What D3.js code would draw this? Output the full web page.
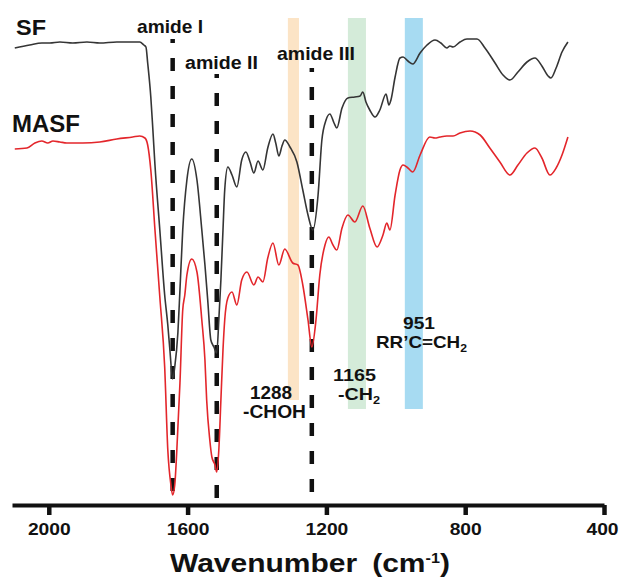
<!DOCTYPE html>
<html>
<head>
<meta charset="utf-8">
<script src="https://cdn.jsdelivr.net/npm/d3@7"></script>
<style>
  body { margin: 0; background: #fff; }
  svg { display: block; font-family: "Liberation Sans", Arial, sans-serif; }
</style>
</head>
<body>
<div id="chart"></div>
<script>
// Spectra as [wavenumber (cm-1), signal (a.u., offset)]
const sfSpectrum = [
  [2098, 91.4], [2055, 92.0], [2020, 92.4], [1997, 92.4], [1968, 92.6], [1931, 92.4],
  [1890, 92.6], [1853, 92.4], [1804, 92.6], [1758, 92.6], [1738, 92.6], [1726, 92.0],
  [1720, 91.6], [1715, 88.4], [1706, 81.6], [1700, 75.0], [1694, 68.0], [1680, 55.0],
  [1666, 42.0], [1657, 36.0], [1651, 31.0], [1643, 25.2], [1637, 27.6], [1628, 34.4],
  [1622, 43.0], [1614, 55.0], [1602, 65.0], [1588, 69.2], [1573, 65.0], [1559, 55.0],
  [1550, 48.0], [1542, 41.0], [1533, 33.0], [1524, 31.6], [1516, 30.4], [1510, 37.0],
  [1504, 45.0], [1498, 55.0], [1493, 63.0], [1484, 67.6], [1472, 66.0], [1458, 63.6],
  [1444, 69.0], [1432, 70.6], [1420, 68.6], [1409, 66.4], [1397, 68.8], [1383, 67.0],
  [1369, 71.4], [1354, 74.2], [1346, 72.4], [1337, 69.8], [1328, 71.8], [1320, 73.0],
  [1305, 71.6], [1285, 68.6], [1268, 63.0], [1253, 58.0], [1239, 55.0], [1224, 62.0],
  [1213, 73.0], [1201, 77.0], [1190, 78.2], [1178, 76.4], [1170, 75.4], [1155, 79.4],
  [1138, 81.4], [1118, 81.6], [1103, 81.8], [1095, 82.6], [1086, 80.6], [1075, 79.0],
  [1060, 77.6], [1046, 79.0], [1028, 82.2], [1020, 80.0], [1014, 81.0], [1002, 85.6],
  [988, 89.4], [979, 89.6], [965, 88.8], [951, 88.2], [930, 90.4], [910, 92.0],
  [887, 93.0], [870, 92.4], [853, 91.4], [844, 91.8], [835, 91.6], [815, 92.6],
  [795, 93.2], [766, 93.2], [743, 91.4], [714, 88.4], [691, 86.0], [671, 85.0],
  [648, 86.6], [622, 88.6], [599, 89.4], [579, 87.8], [561, 85.8], [553, 85.4],
  [538, 87.4], [521, 90.6], [504, 92.6]
];

const masfSpectrum = [
  [2098, 71.2], [2063, 71.4], [2040, 72.4], [2020, 72.8], [2003, 72.4], [1988, 72.8],
  [1968, 72.6], [1948, 72.4], [1902, 72.4], [1853, 72.6], [1804, 73.2], [1758, 73.6],
  [1738, 73.8], [1723, 73.4], [1715, 72.0], [1706, 67.0], [1694, 55.0], [1680, 41.6],
  [1666, 27.6], [1657, 11.0], [1648, 4.0], [1643, 2.0], [1637, 4.0], [1631, 11.0],
  [1622, 24.4], [1614, 39.0], [1608, 42.0], [1602, 46.0], [1588, 49.2], [1573, 46.6],
  [1559, 37.0], [1550, 29.0], [1545, 21.0], [1536, 13.0], [1530, 9.6], [1521, 8.0],
  [1516, 6.6], [1510, 11.0], [1504, 21.0], [1498, 31.0], [1493, 37.0], [1484, 41.4],
  [1472, 42.6], [1458, 40.0], [1444, 45.0], [1429, 46.6], [1409, 44.0], [1397, 45.6],
  [1383, 44.6], [1369, 49.4], [1354, 52.4], [1337, 48.0], [1320, 51.2], [1297, 48.4],
  [1282, 48.0], [1268, 44.0], [1253, 37.0], [1242, 31.6], [1230, 37.0], [1219, 46.0],
  [1204, 52.0], [1193, 53.6], [1181, 52.0], [1170, 51.0], [1155, 55.4], [1138, 58.0],
  [1118, 56.6], [1095, 59.8], [1075, 55.4], [1054, 51.6], [1037, 54.0], [1026, 56.4],
  [1017, 55.0], [1002, 62.0], [988, 67.0], [979, 68.0], [965, 67.4], [951, 66.6],
  [930, 70.0], [902, 73.6], [887, 73.4], [873, 73.6], [853, 73.8], [835, 73.8],
  [815, 74.4], [786, 74.8], [757, 74.0], [729, 71.4], [700, 68.6], [671, 66.0],
  [648, 68.0], [622, 70.4], [599, 71.4], [579, 69.4], [556, 66.0], [538, 67.4],
  [521, 70.0], [504, 73.6]
];

// Peak markers and highlighted bands (wavenumbers)
const amidePeaks = [1643, 1516, 1242];
const amideNames = ["amide I", "amide II", "amide III"];
const bandRanges = [[1311, 1279], [1138, 1086], [974, 922]];
const tickValues = [2000, 1600, 1200, 800, 400];

// Styles
const bandColors = ["#fce4c6", "#d4ebd9", "#a7dbf2"];
const ink = "#111";

const width = 619;
const height = 578;

const svg = d3.select("#chart")
  .append("svg")
  .attr("width", width)
  .attr("height", height);

svg.append("rect").attr("width", width).attr("height", height).attr("fill", "#fff");

// Scales
let x = d3.scaleLinear().domain([2106, 400]).range([12, 604]);
let y = d3.scaleLinear().domain([0, 100]).range([505, 5]);

// Highlight bands
const bandTop = 97.4;
const bandBottoms = [21, 19.2, 19.2];
svg.selectAll(".band")
  .data(bandRanges)
  .join("rect")
  .attr("class", "band")
  .attr("x", d => x(d[0]))
  .attr("width", d => x(d[1]) - x(d[0]))
  .attr("y", y(bandTop))
  .attr("height", (d, i) => y(bandBottoms[i]) - y(bandTop))
  .attr("fill", (d, i) => bandColors[i]);

// Dashed amide lines
const amideTops = [93.2, 86.2, 87.4];
svg.selectAll(".amide")
  .data(amidePeaks)
  .join("line")
  .attr("class", "amide")
  .attr("x1", d => x(d))
  .attr("x2", d => x(d))
  .attr("y1", (d, i) => y(amideTops[i]))
  .attr("y2", y(0))
  .attr("stroke", ink)
  .attr("stroke-width", 4.5)
  .attr("stroke-dasharray", "13,15")
  .attr("stroke-dashoffset", 9);

// Spectra
let spectrumLine = d3.line()
  .x(d => x(d[0]))
  .y(d => y(d[1]))
  .curve(d3.curveMonotoneX);

svg.append("path")
  .datum(sfSpectrum)
  .attr("fill", "none")
  .attr("stroke", "#353535")
  .attr("stroke-width", 1.6)
  .attr("stroke-linejoin", "round")
  .attr("d", spectrumLine);

svg.append("path")
  .datum(masfSpectrum)
  .attr("fill", "none")
  .attr("stroke", "#e3262b")
  .attr("stroke-width", 1.6)
  .attr("stroke-linejoin", "round")
  .attr("d", spectrumLine);

// X axis
let axis = svg.append("g")
  .attr("transform", "translate(0," + y(0) + ")")
  .call(d3.axisBottom(x)
    .tickValues(tickValues)
    .tickSize(10)
    .tickSizeOuter(0)
    .tickFormat(d3.format("d")))
  .attr("font-family", null)
  .attr("font-size", null);

axis.select(".domain").attr("stroke", ink).attr("stroke-width", 4);
axis.selectAll(".tick line").attr("stroke", ink).attr("stroke-width", 4.5);
axis.selectAll(".tick text")
  .attr("x", d => d === 400 ? -2 : 0)
  .attr("y", 30)
  .attr("dy", null)
  .attr("fill", ink)
  .attr("font-size", 16.5)
  .attr("font-weight", "bold")
  .attr("textLength", d => String(d).length * 10.7)
  .attr("lengthAdjust", "spacingAndGlyphs");

// Text labels, stretched horizontally to match the figure
function label(parts, left, baseline, targetWidth, size, weight) {
  let t = svg.append("text")
    .attr("font-size", size)
    .attr("font-weight", weight || "bold")
    .attr("fill", ink);
  parts.forEach(p => {
    if (typeof p === "string") p = { text: p };
    t.append("tspan")
      .attr("font-size", p.size || null)
      .attr("dy", p.dy || null)
      .text(p.text);
  });
  let w = t.node().getBBox().width;
  t.attr("transform", "translate(" + left + "," + baseline + ") scale(" + (targetWidth / w) + ",1)");
  return t;
}

label(["SF"], 16, 35, 30, 23);
label(["MASF"], 12, 132, 68, 23);

label([amideNames[0]], 137, 33, 66, 18);
label([amideNames[1]], 185, 69, 73, 18);
label([amideNames[2]], 277, 60, 78, 18);

label(["1288"], 250, 399, 42, 18);
label(["-CHOH"], 243, 418, 63, 18);
label(["1165"], 333, 381, 43, 17);
label(["-CH", { text: "2", size: 11, dy: 4 }], 338, 400, 42, 17);
label(["951"], 403, 329, 32, 17);
label(["RR\u2019C=CH", { text: "2", size: 11, dy: 4 }], 376, 348, 91, 17);

label(["Wavenumber\u2002(cm", { text: "-1", size: 14, dy: -9 }, { text: ")", dy: 9 }],
  170, 572, 280, 26, "bold");
</script>
</body>
</html>
